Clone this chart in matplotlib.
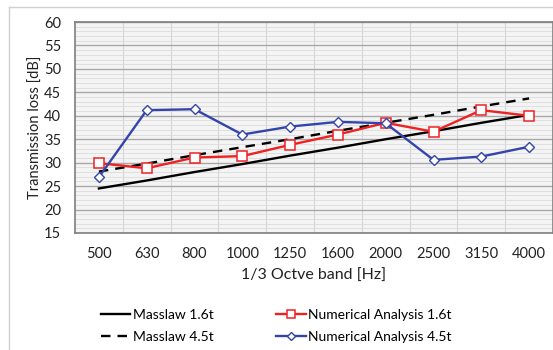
import matplotlib
matplotlib.use("Agg")
import matplotlib.pyplot as plt
from matplotlib.lines import Line2D
import numpy as np

plt.rcParams['font.family'] = ['Lato', 'DejaVu Sans']

bands = ["500", "630", "800", "1000", "1250", "1600", "2000", "2500", "3150", "4000"]
masslaw_16 = [24.5, 26.2, 28.0, 29.7, 31.5, 33.2, 35.0, 36.7, 38.5, 40.2]
masslaw_45 = [28.1, 29.8, 31.6, 33.3, 35.0, 36.8, 38.5, 40.2, 42.0, 43.7]
numeric_16 = [29.9, 28.8, 31.1, 31.4, 33.8, 36.0, 38.5, 36.6, 41.2, 40.0]
numeric_45 = [26.9, 41.2, 41.4, 36.0, 37.7, 38.7, 38.4, 30.6, 31.3, 33.4]

fig = plt.figure(figsize=(5.53, 3.5), dpi=100)
ax = fig.add_axes([75/553, 1-233/350, 478/553, 211/350])
x = np.arange(len(bands))

ax.set_facecolor('#f4f4f4')
ax.set_xlim(-0.5, len(bands)-0.5)
ax.set_ylim(15, 60)
ax.set_yticks(np.arange(15, 61, 5))
ax.set_yticks(np.arange(15, 61, 1), minor=True)
ax.set_xticks(x)
ax.set_xticklabels(bands)
ax.set_xticks(np.arange(0.5, len(bands)-0.5, 1), minor=True)
ax.grid(which='major', axis='y', color='#a8a8a8', lw=1.0)
ax.grid(which='minor', axis='y', color='#dcdcdc', lw=0.6)
ax.grid(which='minor', axis='x', color='#d4d4d4', lw=0.8)
ax.set_axisbelow(True)
ax.tick_params(which='both', length=0)
ax.tick_params(axis='y', labelsize=10.5, pad=10, colors='#222222')
ax.tick_params(axis='x', labelsize=10.5, pad=10, colors='#222222')
for s in ax.spines.values():
    s.set_color('#7f7f7f')
    s.set_linewidth(1.2)

l1, = ax.plot(x, masslaw_16, color='black', lw=1.7, label='Masslaw 1.6t')
l2, = ax.plot(x, masslaw_45, color='black', lw=1.7, ls=(0, (4, 3)), label='Masslaw 4.5t')
l3, = ax.plot(x, numeric_16, color='#ee2222', lw=1.7, marker='s', ms=6.5,
              mfc='white', mec='#ee2222', mew=1.1, label='Numerical Analysis 1.6t')
l4, = ax.plot(x, numeric_45, color='#3344aa', lw=1.7, marker='D', ms=5.5,
              mfc='white', mec='#3344aa', mew=1.0, label='Numerical Analysis 4.5t')

ax.set_ylabel('Transmission loss [dB]', fontsize=10.5, labelpad=1, color='#222222')
ax.set_xlabel('1/3 Octve band [Hz]', fontsize=11.5, labelpad=6, color='#222222')

fig.legend(handles=[l1, l2, l3, l4], ncol=2, loc='center',
           bbox_to_anchor=(0.50, 1-326/350), frameon=False, fontsize=10,
           handlelength=2.1, handletextpad=0.2, columnspacing=4.5, labelspacing=0.7,
           markerscale=0.8)

fig.add_artist(Line2D([9/553, 1], [1-7/350, 1-7/350], color='#d0d0d0', lw=1.0))
fig.add_artist(Line2D([9/553, 9/553], [0, 1-7/350], color='#d0d0d0', lw=1.0))

fig.savefig('out.png', dpi=100)
